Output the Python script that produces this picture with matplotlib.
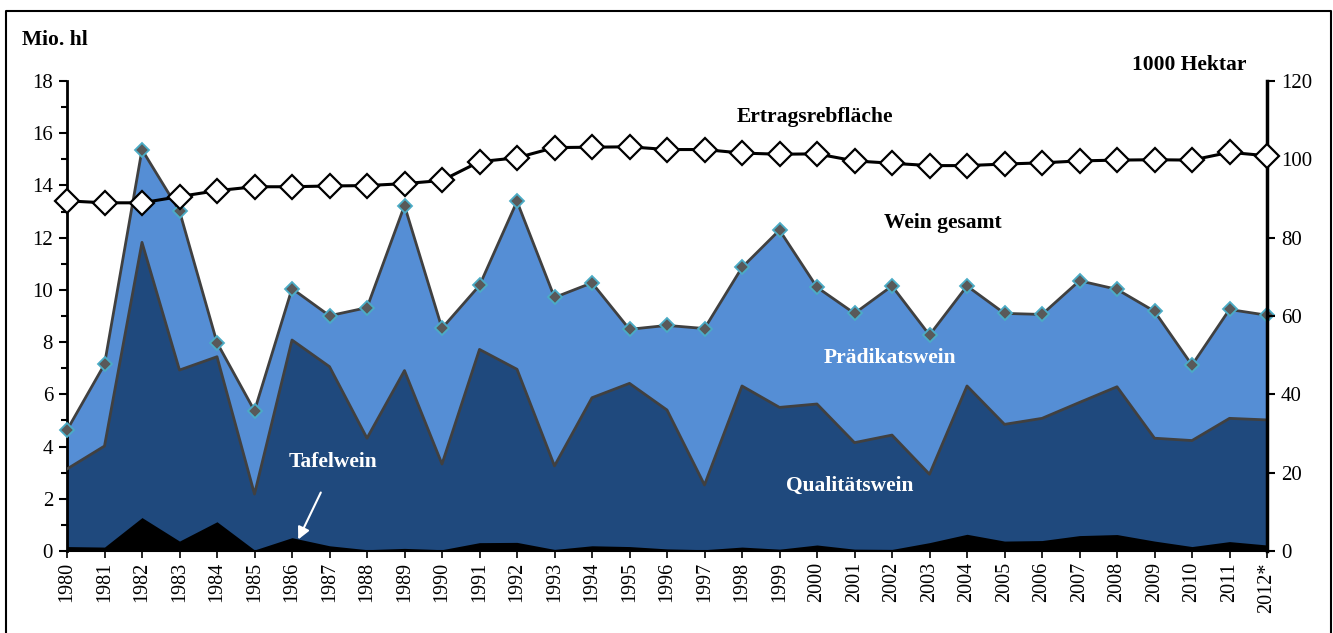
import matplotlib
matplotlib.use("Agg")
import matplotlib.pyplot as plt
from matplotlib.lines import Line2D
import numpy as np

plt.rcParams['font.family'] = ['Liberation Serif', 'DejaVu Serif']

years = [str(y) for y in range(1980, 2012)] + ["2012*"]

# Mio. hl
tafelwein = [0.17, 0.15, 1.28, 0.38, 1.12, 0.04, 0.51, 0.20, 0.05, 0.10,
             0.05, 0.32, 0.33, 0.06, 0.20, 0.17, 0.08, 0.05, 0.15, 0.07,
             0.23, 0.07, 0.06, 0.32, 0.64, 0.38, 0.40, 0.59, 0.63, 0.38,
             0.17, 0.36, 0.23]
# cumulative Tafelwein + Qualitätswein (top of dark blue area)
qualitaet_cum = [3.14, 4.02, 11.82, 6.93, 7.44, 2.18, 8.08, 7.06, 4.32, 6.91,
                 3.33, 7.72, 6.96, 3.26, 5.87, 6.42, 5.40, 2.53, 6.32, 5.50,
                 5.63, 4.15, 4.44, 2.94, 6.32, 4.85, 5.08, 5.69, 6.29, 4.32,
                 4.23, 5.08, 5.02]
wein_gesamt = [4.63, 7.15, 15.37, 13.02, 7.98, 5.37, 10.05, 9.01, 9.32, 13.23,
               8.53, 10.17, 13.39, 9.71, 10.27, 8.49, 8.64, 8.52, 10.86, 12.29,
               10.10, 9.10, 10.15, 8.27, 10.15, 9.10, 9.06, 10.35, 10.02, 9.18,
               7.12, 9.25, 9.03]
# 1000 Hektar
ertragsrebflaeche = [89.4, 88.9, 88.9, 90.5, 92.0, 93.0, 93.0, 93.2, 93.3, 93.8,
                     94.6, 99.4, 100.4, 103.0, 103.1, 103.2, 102.5, 102.5, 101.6, 101.3,
                     101.4, 99.6, 99.0, 98.4, 98.4, 98.8, 99.1, 99.6, 99.8, 99.9,
                     99.8, 101.8, 100.9]

W, H = 1333, 633
fig = plt.figure(figsize=(W / 100, H / 100), dpi=100)
ax = fig.add_axes([67 / W, 1 - 551 / H, 1200 / W, 470 / H])
x = np.arange(len(years))

light = '#558ED5'
dark = '#1F497D'
edge = '#404040'

ax.fill_between(x, 0, wein_gesamt, color=light, lw=0, zorder=1)
ax.fill_between(x, 0, qualitaet_cum, color=dark, lw=0, zorder=2)
ax.fill_between(x, 0, tafelwein, color='black', lw=0, zorder=3)
ax.plot(x, qualitaet_cum, color=edge, lw=2, zorder=4)
ax.plot(x, wein_gesamt, color=edge, lw=2, marker='D', markersize=7.5,
        markerfacecolor='#595959', markeredgecolor='#4BACC6', markeredgewidth=1.3,
        zorder=5, clip_on=False)

ax.set_xlim(0, len(years) - 1)
ax.set_ylim(0, 18)
ax.set_yticks(np.arange(0, 19, 2))
ax.set_yticks(np.arange(1, 18, 2), minor=True)
ax.set_xticks(x)
ax.set_xticklabels(years, rotation=90, fontsize=14.5)
ax.tick_params(axis='y', which='major', labelsize=15, length=6, width=1.5, direction='out', pad=4)
ax.tick_params(axis='y', which='minor', length=4, width=1.5, direction='out')
ax.tick_params(axis='x', length=5, width=1.2, direction='out', pad=3)
ax.spines['top'].set_visible(False)
ax.spines['left'].set_linewidth(2)
ax.spines['bottom'].set_linewidth(1.5)
ax.spines['right'].set_visible(False)

ax2 = ax.twinx()
ax2.set_ylim(0, 120)
ax2.set_yticks(np.arange(0, 121, 20))
ax2.tick_params(axis='y', labelsize=15, length=6, width=1.5, direction='out', pad=4)
for s in ['top', 'left', 'bottom']:
    ax2.spines[s].set_visible(False)
ax2.spines['right'].set_linewidth(2.5)
ax2.plot(x, ertragsrebflaeche, color='black', lw=2.2, marker='D', markersize=12,
         markerfacecolor='white', markeredgecolor='black', markeredgewidth=1.6,
         zorder=6, clip_on=False)
ax2.set_xlim(0, len(years) - 1)

# labels
def ftext(px, py, s, **kw):
    fig.text(px / W, 1 - py / H, s, fontsize=15.5, fontweight='bold', **kw)

ftext(22, 40, "Mio. hl", ha='left', va='center')
ftext(1246, 65, "1000 Hektar", ha='right', va='center')
ftext(815, 117, "Ertragsrebfläche", ha='center', va='center')
ftext(943, 223, "Wein gesamt", ha='center', va='center')
ftext(890, 358, "Prädikatswein", ha='center', va='center', color='white')
ftext(850, 486, "Qualitätswein", ha='center', va='center', color='white')
ftext(333, 462, "Tafelwein", ha='center', va='center', color='white')

fig.add_artist(matplotlib.patches.FancyArrowPatch(
    (322 / W, 1 - 490 / H), (297 / W, 1 - 542 / H), transform=fig.transFigure,
    arrowstyle='-|>', mutation_scale=18, color='white', lw=1.5, zorder=10))

# figure border (left, top, right)
bx0, bx1, by1 = 5.5 / W, 1330.5 / W, 1 - 10.5 / H
fig.add_artist(Line2D([bx0, bx0, bx1, bx1], [0, by1, by1, 0],
                      transform=fig.transFigure, color='black', lw=1.5))

fig.savefig("out.png", dpi=100)
